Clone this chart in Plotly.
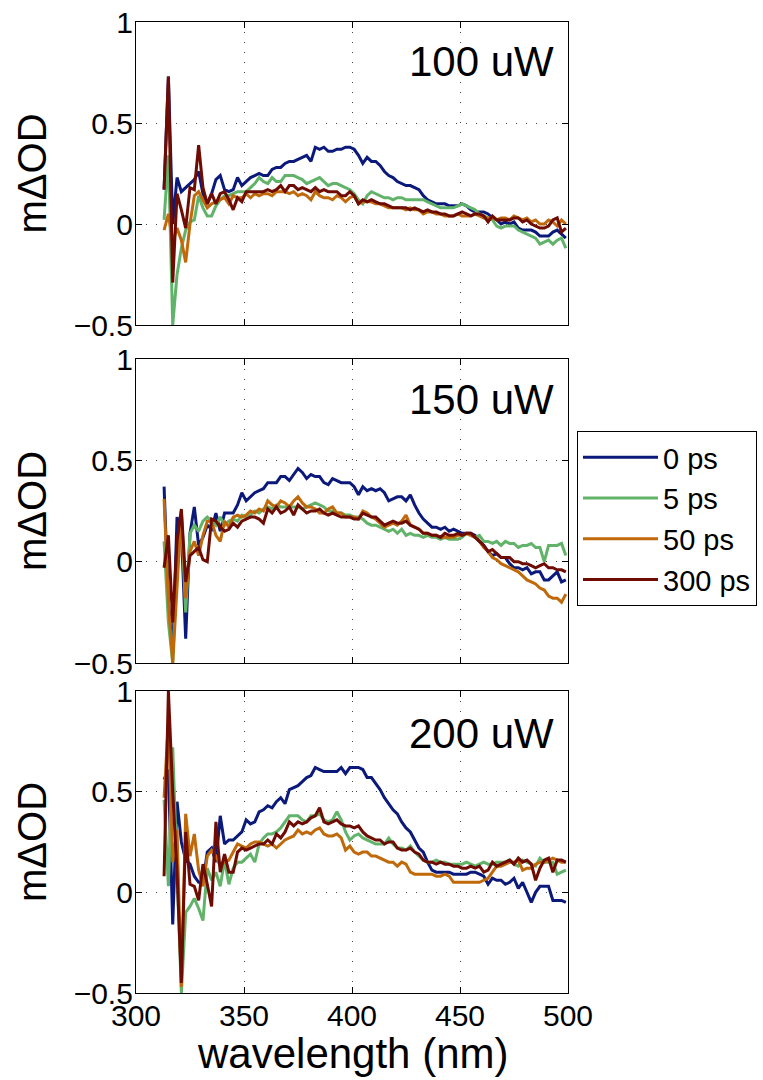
import plotly.graph_objects as go

# ---------------- data ----------------
wavelength = list(range(313, 500, 2))  # nm, 94 samples

series_names = ["0 ps", "5 ps", "50 ps", "300 ps"]
panel_labels = ["100 uW", "150 uW", "200 uW"]
x_ticks = [300, 350, 400, 450, 500]
y_ticks = [-0.5, 0, 0.5, 1]

# 100 uW
p100_0ps = [0.17, 0.73, 0.00, 0.23, 0.16, 0.18, 0.20, 0.22, 0.26, 0.15,
            0.10, 0.15, 0.22, 0.24, 0.17, 0.16, 0.17, 0.23, 0.19, 0.21,
            0.23, 0.24, 0.25, 0.24, 0.24, 0.27, 0.28, 0.28, 0.30, 0.31,
            0.31, 0.32, 0.33, 0.34, 0.31, 0.38, 0.37, 0.38, 0.36, 0.36,
            0.37, 0.37, 0.38, 0.38, 0.37, 0.34, 0.30, 0.33, 0.31, 0.31,
            0.29, 0.26, 0.24, 0.23, 0.21, 0.20, 0.19, 0.19, 0.18, 0.17,
            0.14, 0.12, 0.11, 0.10, 0.10, 0.10, 0.09, 0.09, 0.09, 0.10,
            0.09, 0.07, 0.06, 0.06, 0.06, 0.05, 0.03, 0.02, 0.00, 0.01,
            0.00, 0.01, -0.02, -0.03, -0.03, -0.03, -0.04, -0.06, -0.06, -0.06,
            -0.04, -0.03, -0.05, -0.07]
p100_5ps = [0.02, 0.34, -0.50, -0.25, -0.12, -0.03, 0.01, 0.02, 0.14, 0.08,
            0.04, 0.04, 0.09, 0.12, 0.14, 0.14, 0.15, 0.16, 0.16, 0.16,
            0.18, 0.20, 0.23, 0.21, 0.20, 0.23, 0.21, 0.21, 0.24, 0.24,
            0.24, 0.23, 0.22, 0.20, 0.21, 0.22, 0.23, 0.21, 0.19, 0.20,
            0.20, 0.19, 0.18, 0.17, 0.15, 0.12, 0.10, 0.14, 0.16, 0.15,
            0.14, 0.13, 0.13, 0.12, 0.13, 0.13, 0.12, 0.12, 0.12, 0.12,
            0.12, 0.11, 0.10, 0.09, 0.08, 0.08, 0.08, 0.08, 0.09, 0.10,
            0.09, 0.08, 0.07, 0.05, 0.04, 0.03, 0.02, -0.01, -0.02, -0.01,
            -0.01, -0.01, -0.03, -0.04, -0.05, -0.06, -0.07, -0.10, -0.09, -0.08,
            -0.10, -0.08, -0.07, -0.12]
p100_50ps = [-0.03, 0.05, -0.09, -0.02, -0.08, -0.19, 0.00, 0.14, 0.16, 0.12,
             0.08, 0.10, 0.11, 0.12, 0.13, 0.10, 0.14, 0.13, 0.13, 0.15,
             0.13, 0.15, 0.14, 0.15, 0.15, 0.14, 0.16, 0.16, 0.16, 0.15,
             0.16, 0.14, 0.15, 0.14, 0.12, 0.16, 0.14, 0.13, 0.13, 0.12,
             0.14, 0.13, 0.11, 0.13, 0.14, 0.10, 0.11, 0.11, 0.11, 0.10,
             0.10, 0.09, 0.08, 0.08, 0.08, 0.08, 0.07, 0.08, 0.07, 0.07,
             0.05, 0.06, 0.06, 0.05, 0.05, 0.04, 0.04, 0.04, 0.05, 0.04,
             0.04, 0.04, 0.05, 0.04, 0.03, 0.03, 0.03, 0.02, 0.03, 0.03,
             0.02, 0.04, 0.03, 0.02, 0.03, 0.01, 0.02, 0.00, 0.00, 0.02,
             0.01, -0.01, 0.02, 0.00]
p100_300ps = [0.17, 0.73, -0.29, 0.15, 0.07, -0.02, 0.18, 0.17, 0.39, 0.18,
              0.10, 0.15, 0.10, 0.15, 0.16, 0.12, 0.07, 0.13, 0.11, 0.16,
              0.16, 0.16, 0.16, 0.16, 0.17, 0.16, 0.17, 0.19, 0.16, 0.19,
              0.19, 0.17, 0.18, 0.17, 0.16, 0.18, 0.16, 0.17, 0.16, 0.16,
              0.16, 0.14, 0.14, 0.16, 0.14, 0.10, 0.12, 0.11, 0.12, 0.11,
              0.10, 0.10, 0.09, 0.08, 0.08, 0.08, 0.08, 0.07, 0.08, 0.07,
              0.06, 0.07, 0.06, 0.06, 0.05, 0.05, 0.04, 0.04, 0.05, 0.06,
              0.05, 0.04, 0.05, 0.05, 0.04, 0.01, 0.04, 0.02, 0.02, 0.02,
              0.02, 0.03, 0.03, 0.01, 0.02, 0.00, -0.01, -0.02, -0.02, -0.01,
              0.02, 0.03, -0.04, -0.02]

# 150 uW
p150_0ps = [0.37, -0.20, -0.45, 0.22, 0.15, -0.38, 0.14, 0.27, 0.08, 0.12,
            0.18, 0.16, 0.24, 0.15, 0.24, 0.24, 0.24, 0.28, 0.34, 0.30,
            0.32, 0.34, 0.35, 0.36, 0.39, 0.39, 0.39, 0.42, 0.42, 0.40,
            0.43, 0.46, 0.44, 0.41, 0.43, 0.42, 0.42, 0.39, 0.38, 0.41,
            0.40, 0.39, 0.39, 0.39, 0.37, 0.33, 0.37, 0.35, 0.36, 0.35,
            0.36, 0.34, 0.30, 0.31, 0.32, 0.32, 0.30, 0.33, 0.28, 0.24,
            0.21, 0.19, 0.17, 0.17, 0.16, 0.17, 0.15, 0.16, 0.15, 0.14,
            0.14, 0.14, 0.13, 0.10, 0.08, 0.05, 0.03, 0.04, 0.02, 0.02,
            -0.01, -0.03, -0.03, -0.04, -0.03, -0.06, -0.05, -0.05, -0.09, -0.09,
            -0.07, -0.05, -0.10, -0.09]
p150_5ps = [0.10, -0.30, -0.50, 0.00, 0.23, -0.25, 0.14, 0.18, 0.15, 0.20,
            0.22, 0.20, 0.18, 0.22, 0.18, 0.20, 0.21, 0.20, 0.23, 0.22,
            0.23, 0.25, 0.24, 0.26, 0.27, 0.26, 0.28, 0.27, 0.27, 0.27,
            0.27, 0.27, 0.26, 0.27, 0.28, 0.29, 0.28, 0.27, 0.25, 0.25,
            0.24, 0.24, 0.23, 0.23, 0.22, 0.22, 0.21, 0.19, 0.18, 0.18,
            0.17, 0.16, 0.15, 0.16, 0.14, 0.16, 0.13, 0.14, 0.13, 0.13,
            0.12, 0.13, 0.12, 0.12, 0.11, 0.12, 0.11, 0.11, 0.11, 0.12,
            0.14, 0.13, 0.12, 0.13, 0.10, 0.10, 0.09, 0.10, 0.08, 0.10,
            0.09, 0.09, 0.07, 0.08, 0.08, 0.09, 0.07, 0.07, 0.00, 0.08,
            0.08, 0.08, 0.09, 0.03]
p150_50ps = [0.31, -0.20, -0.50, -0.10, 0.25, -0.18, 0.05, 0.10, 0.03, 0.13,
             0.20, 0.20, 0.13, 0.10, 0.20, 0.17, 0.22, 0.23, 0.22, 0.23,
             0.25, 0.24, 0.26, 0.25, 0.30, 0.28, 0.27, 0.30, 0.29, 0.27,
             0.30, 0.32, 0.29, 0.27, 0.27, 0.26, 0.24, 0.24, 0.26, 0.27,
             0.24, 0.24, 0.22, 0.22, 0.22, 0.21, 0.25, 0.24, 0.22, 0.21,
             0.19, 0.17, 0.18, 0.19, 0.18, 0.20, 0.23, 0.18, 0.17, 0.16,
             0.14, 0.14, 0.13, 0.13, 0.12, 0.12, 0.12, 0.12, 0.13, 0.13,
             0.14, 0.13, 0.12, 0.10, 0.07, 0.05, 0.02, 0.01, -0.01, -0.02,
             -0.03, -0.04, -0.05, -0.07, -0.09, -0.10, -0.11, -0.13, -0.14, -0.17,
             -0.18, -0.18, -0.20, -0.16]
p150_300ps = [-0.03, 0.13, -0.30, 0.10, 0.26, -0.10, 0.03, 0.05, 0.07, 0.01,
              0.00, 0.21, 0.20, 0.17, 0.15, 0.16, 0.19, 0.17, 0.20, 0.21,
              0.22, 0.22, 0.21, 0.19, 0.26, 0.24, 0.27, 0.24, 0.25, 0.27,
              0.23, 0.28, 0.26, 0.24, 0.25, 0.25, 0.26, 0.24, 0.23, 0.24,
              0.23, 0.22, 0.22, 0.22, 0.21, 0.21, 0.24, 0.23, 0.22, 0.22,
              0.20, 0.18, 0.19, 0.20, 0.19, 0.19, 0.20, 0.18, 0.17, 0.16,
              0.14, 0.14, 0.13, 0.13, 0.12, 0.14, 0.13, 0.13, 0.14, 0.13,
              0.14, 0.14, 0.12, 0.10, 0.08, 0.05, 0.06, 0.04, 0.02, 0.02,
              0.02, 0.00, 0.00, -0.01, -0.01, -0.02, -0.03, -0.02, -0.01, -0.03,
              -0.03, -0.04, -0.04, -0.05]

# 200 uW
p200_0ps = [0.56, 0.61, -0.16, 0.45, 0.25, 0.16, 0.14, 0.08, 0.05, 0.05,
            0.20, 0.22, 0.15, 0.38, 0.24, 0.26, 0.26, 0.28, 0.30, 0.36,
            0.34, 0.35, 0.40, 0.41, 0.43, 0.42, 0.45, 0.47, 0.44, 0.51,
            0.52, 0.53, 0.55, 0.57, 0.58, 0.62, 0.61, 0.60, 0.60, 0.60,
            0.60, 0.62, 0.59, 0.62, 0.62, 0.62, 0.61, 0.57, 0.57, 0.54,
            0.51, 0.47, 0.44, 0.41, 0.39, 0.35, 0.32, 0.30, 0.26, 0.22,
            0.20, 0.15, 0.11, 0.10, 0.10, 0.10, 0.10, 0.09, 0.09, 0.09,
            0.09, 0.10, 0.10, 0.09, 0.08, 0.04, 0.07, 0.06, 0.06, 0.04,
            0.05, 0.07, 0.02, 0.05, 0.00, -0.05, 0.00, 0.03, 0.03, 0.03,
            -0.04, -0.04, -0.04, -0.05]
p200_5ps = [0.46, 0.03, 0.72, 0.10, -0.50, -0.10, -0.07, -0.03, -0.08, -0.14,
            0.12, 0.06, 0.10, 0.03, 0.16, 0.04, 0.12, 0.15, 0.15, 0.17,
            0.19, 0.15, 0.24, 0.27, 0.29, 0.29, 0.30, 0.32, 0.35, 0.38,
            0.38, 0.38, 0.36, 0.35, 0.38, 0.38, 0.39, 0.36, 0.35, 0.36,
            0.40, 0.36, 0.30, 0.26, 0.28, 0.29, 0.27, 0.26, 0.25, 0.24,
            0.24, 0.24, 0.27, 0.24, 0.22, 0.22, 0.21, 0.23, 0.20, 0.18,
            0.16, 0.15, 0.15, 0.16, 0.15, 0.15, 0.14, 0.14, 0.14, 0.14,
            0.15, 0.14, 0.13, 0.14, 0.15, 0.14, 0.14, 0.15, 0.15, 0.15,
            0.16, 0.14, 0.13, 0.16, 0.15, 0.14, 0.13, 0.17, 0.15, 0.15,
            0.15, 0.09, 0.10, 0.11]
p200_50ps = [0.47, 0.85, 0.15, 0.31, -0.47, 0.39, 0.18, 0.29, 0.11, 0.03,
             0.18, 0.21, 0.18, 0.13, 0.15, 0.16, 0.20, 0.24, 0.23, 0.22,
             0.24, 0.25, 0.25, 0.24, 0.23, 0.24, 0.22, 0.24, 0.26, 0.27,
             0.28, 0.31, 0.29, 0.30, 0.29, 0.31, 0.32, 0.29, 0.28, 0.28,
             0.29, 0.27, 0.21, 0.23, 0.20, 0.19, 0.20, 0.20, 0.18, 0.18,
             0.17, 0.16, 0.15, 0.15, 0.13, 0.15, 0.14, 0.10, 0.09, 0.09,
             0.09, 0.09, 0.09, 0.08, 0.08, 0.09, 0.08, 0.05, 0.05, 0.05,
             0.05, 0.05, 0.05, 0.05, 0.06, 0.07, 0.10, 0.13, 0.13, 0.14,
             0.15, 0.15, 0.16, 0.11, 0.12, 0.12, 0.14, 0.15, 0.15, 0.16,
             0.17, 0.16, 0.15, 0.15]
p200_300ps = [0.08, 1.00, 0.50, 0.10, -0.45, 0.30, 0.04, 0.03, -0.04, 0.14,
              0.04, -0.07, 0.35, 0.10, 0.19, 0.10, 0.10, 0.20, 0.22, 0.21,
              0.22, 0.23, 0.24, 0.24, 0.26, 0.24, 0.29, 0.27, 0.30, 0.35,
              0.33, 0.35, 0.34, 0.35, 0.37, 0.38, 0.42, 0.35, 0.34, 0.35,
              0.36, 0.34, 0.33, 0.33, 0.32, 0.33, 0.30, 0.28, 0.27, 0.26,
              0.26, 0.24, 0.25, 0.25, 0.22, 0.21, 0.21, 0.22, 0.20, 0.19,
              0.16, 0.15, 0.15, 0.14, 0.15, 0.14, 0.14, 0.13, 0.13, 0.12,
              0.12, 0.13, 0.12, 0.13, 0.10, 0.11, 0.15, 0.13, 0.14, 0.15,
              0.16, 0.14, 0.17, 0.15, 0.16, 0.14, 0.06, 0.12, 0.16, 0.17,
              0.10, 0.16, 0.16, 0.15]

panels = [
    [p100_0ps, p100_5ps, p100_50ps, p100_300ps],
    [p150_0ps, p150_5ps, p150_50ps, p150_300ps],
    [p200_0ps, p200_5ps, p200_50ps, p200_300ps],
]

# ---------------- style ----------------
W, H = 763, 1080
colors = ["#0b1a7a", "#62b36a", "#c0690a", "#6e0c04"]
FONT = "Liberation Sans, Arial, Helvetica, sans-serif"
x_px = (136, 568)
y_px = [(22, 325), (359, 663), (691, 993)]  # top, bottom in pixels

fig = go.Figure()

for p, series in enumerate(panels):
    ax = "" if p == 0 else str(p + 1)
    for s, (name, yvals) in enumerate(zip(series_names, series)):
        fig.add_trace(go.Scatter(
            x=wavelength, y=yvals, mode="lines", name=name,
            line=dict(color=colors[s], width=3),
            xaxis="x" + ax, yaxis="y" + ax,
            showlegend=(p == 0), legendrank=s + 1,
        ))

layout = dict(
    width=W, height=H,
    margin=dict(l=0, r=0, t=0, b=0),
    paper_bgcolor="white", plot_bgcolor="white",
    font=dict(family=FONT, size=29, color="black"),
    showlegend=True,
    legend=dict(
        x=577 / W, y=1 - 431 / H, xanchor="left", yanchor="top",
        bordercolor="black", borderwidth=1, bgcolor="white",
        font=dict(family=FONT, size=29, color="black"),
        itemwidth=75, tracegroupgap=0,
    ),
    annotations=[],
)

for p in range(3):
    ax = "" if p == 0 else str(p + 1)
    top, bot = y_px[p]
    layout["xaxis" + ax] = dict(
        domain=[x_px[0] / W, x_px[1] / W], range=[300, 500],
        anchor="y" + ax, tickvals=x_ticks, showticklabels=(p == 2),
        ticks="inside", ticklen=6, tickcolor="black", mirror="ticks",
        showline=True, linecolor="black", linewidth=1.2,
        showgrid=True, gridcolor="#444444", gridwidth=1, griddash="1px,9px",
        zeroline=False, tickfont=dict(size=30), automargin=False,
        ticklabelstandoff=-4,
    )
    layout["yaxis" + ax] = dict(
        domain=[1 - bot / H, 1 - top / H], range=[-0.5, 1],
        anchor="x" + ax, tickvals=y_ticks,
        ticks="inside", ticklen=6, tickcolor="black", mirror="ticks",
        showline=True, linecolor="black", linewidth=1.2,
        showgrid=True, gridcolor="#444444", gridwidth=1, griddash="1px,9px",
        zeroline=False, tickfont=dict(size=30), automargin=False,
        ticklabelstandoff=-4,
    )
    # panel label
    label_y = [62, 399, 733][p]
    layout["annotations"].append(dict(
        text=panel_labels[p], xref="paper", yref="paper",
        x=556 / W, y=1 - label_y / H, xanchor="right", yanchor="middle",
        showarrow=False, font=dict(size=42, family=FONT, color="black"),
    ))
    # y-axis title
    layout["annotations"].append(dict(
        text="mΔOD", xref="paper", yref="paper",
        x=32 / W, y=1 - ((top + bot) / 2) / H, xanchor="center", yanchor="middle",
        textangle=-90, showarrow=False,
        font=dict(size=40, family=FONT, color="black"),
    ))

layout["annotations"].append(dict(
    text="wavelength (nm)", xref="paper", yref="paper",
    x=352 / W, y=1 - 1053 / H, xanchor="center", yanchor="middle",
    showarrow=False, font=dict(size=42, family=FONT, color="black"),
))

fig.update_layout(**layout)
fig.write_html("out.html")
